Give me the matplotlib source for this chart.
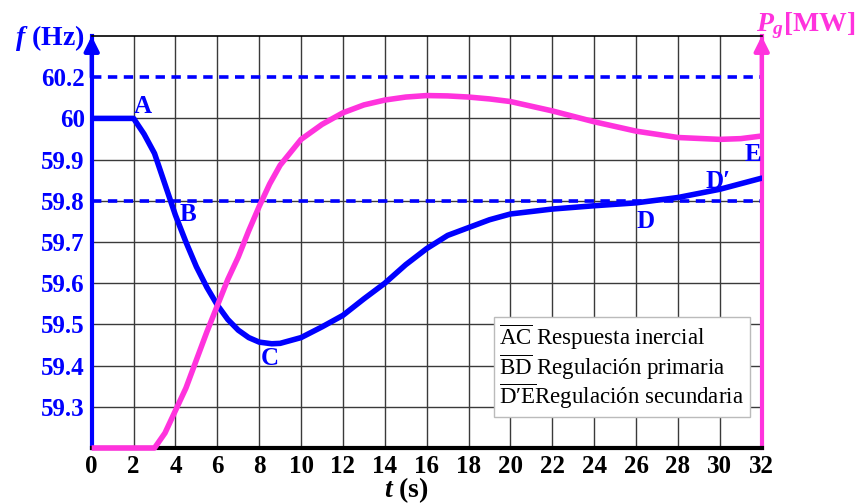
import numpy as np
import matplotlib
matplotlib.use("Agg")
import matplotlib.pyplot as plt
from matplotlib.lines import Line2D

plt.rcParams['font.family'] = ['Liberation Serif', 'DejaVu Serif']
plt.rcParams['mathtext.fontset'] = 'custom'
plt.rcParams['mathtext.it'] = 'Liberation Serif:italic:bold'
plt.rcParams['mathtext.rm'] = 'Liberation Serif:bold'
plt.rcParams['mathtext.bf'] = 'Liberation Serif:bold'
plt.rcParams['mathtext.sf'] = 'Liberation Serif'

# Frecuencia (Hz)
t_f = [0, 1, 2, 2.5, 3, 3.5, 4, 4.5, 5, 5.5, 6, 6.5, 7, 7.5, 8, 8.6, 9, 10, 11, 12, 13,
       14, 15, 16, 17, 18, 19, 20, 22, 24, 26, 28, 30, 32]
freq = [60, 60, 60, 59.962, 59.915, 59.84, 59.765, 59.70, 59.64, 59.59, 59.547, 59.512,
        59.486, 59.468, 59.457, 59.453, 59.454, 59.468, 59.494, 59.522, 59.562,
        59.60, 59.645, 59.684, 59.716, 59.735, 59.754, 59.768, 59.780, 59.788, 59.795,
        59.808, 59.828, 59.855]

# Potencia generada Pg (MW, escala relativa)
t_p = [0, 1, 2, 3, 3.5, 4, 4.5, 5, 5.5, 6, 6.5, 7, 7.5, 8, 8.5, 9, 10, 11, 12, 13, 14,
       15, 16, 17, 18, 19, 20, 22, 24, 26, 28, 30, 31, 32]
pg = [0, 0, 0, 0, 4, 10, 16, 23.5, 31, 38, 45, 51, 58, 64.5, 70.5, 75.5, 82.4, 86.4,
      89.5, 91.6, 92.9, 93.7, 94.1, 94.0, 93.7, 93.2, 92.5, 90, 87.1, 84.6, 82.9, 82.4,
      82.6, 83.3]

# el eje y del original tiene 60.2 justo encima de 60 (eje cortado)
ytick_pos = [59.3, 59.4, 59.5, 59.6, 59.7, 59.8, 59.9, 60.0, 60.1]
ytick_labels = ["59.3", "59.4", "59.5", "59.6", "59.7", "59.8", "59.9", "60", "60.2"]
dashed_pos = [60.1, 59.8]
xticks = list(range(0, 33, 2))

puntos = {"A": (2.46, 60.03), "B": (4.62, 59.767), "C": (8.5, 59.418), "D": (26.44, 59.75),
          "D\u2032": (29.9, 59.848), "E": (31.57, 59.913)}

leyenda = [r"$\overline{\mathsf{AC}}$ Respuesta inercial",
           r"$\overline{\mathsf{BD}}$ Regulación primaria",
           "$\\overline{\\mathsf{D\u2032E}}$Regulación secundaria"]

BLUE = "#0000ff"
MAG = "#ff33dd"

fig = plt.figure(figsize=(8.59, 5.04), dpi=100)
ax = fig.add_axes([91.7 / 859, 1 - 448 / 504, (761.7 - 91.7) / 859, (448 - 36) / 504])
ax.set_xlim(0, 32)
ax.set_ylim(59.2, 60.2)

# rejilla
for x in xticks[1:-1]:
    ax.axvline(x, color="#3a3a3a", lw=1.0, zorder=1)
for y in ytick_pos[:-1]:
    ax.axhline(y, color="#3a3a3a", lw=1.0, zorder=1)

for y in dashed_pos:
    ax.axhline(y, color=BLUE, lw=2.6, ls=(0, (2.6, 1.8)), zorder=2)

ax.plot(t_f, freq, color=BLUE, lw=4, solid_capstyle='round', zorder=4)

ax2 = ax.twinx()
ax2.set_ylim(0, 110)
ax2.plot(t_p, pg, color=MAG, lw=4, solid_capstyle='butt', zorder=4, clip_on=False)
ax2.set_yticks([])
for s in ax2.spines.values():
    s.set_visible(False)

ax.set_xticks(xticks)
ax.set_xticklabels([str(x) for x in xticks], fontsize=18, fontweight='bold')
ax.set_yticks(ytick_pos)
ax.set_yticklabels(ytick_labels, fontsize=18, fontweight='bold', color=BLUE)
ax.tick_params(length=0, pad=5)

ax.spines['left'].set_color(BLUE)
ax.spines['left'].set_linewidth(3)
ax.spines['right'].set_color(MAG)
ax.spines['right'].set_linewidth(3)
ax.spines['bottom'].set_linewidth(3)
ax.spines['top'].set_linewidth(1.2)

# flechas de los ejes
ax.annotate("", xy=(0, 60.2), xytext=(0, 60.1), xycoords='data',
            arrowprops=dict(arrowstyle='-|>', color=BLUE, lw=3, mutation_scale=22,
                            shrinkA=0, shrinkB=0), annotation_clip=False)
ax.annotate("", xy=(32, 60.2), xytext=(32, 60.1), xycoords='data',
            arrowprops=dict(arrowstyle='-|>', color=MAG, lw=3, mutation_scale=22,
                            shrinkA=0, shrinkB=0), annotation_clip=False)

for name, (x, y) in puntos.items():
    ax.text(x, y, name, color=BLUE, fontsize=18, fontweight='bold', ha='center', va='center', zorder=5)

handles = [Line2D([], [], linestyle='none') for _ in leyenda]
leg = ax.legend(handles, leyenda, loc='lower right', bbox_to_anchor=(0.9825, 0.075),
                handlelength=0, handletextpad=0, fancybox=False, framealpha=1,
                edgecolor='#bbbbbb', fontsize=16.5, borderpad=0.25, labelspacing=0.0,
                borderaxespad=0)
leg.set_zorder(6)

fig.text(50 / 859, 1 - 38 / 504, r"$f$ (Hz)", color=BLUE, fontsize=20, fontweight='bold',
         ha='center', va='center')
fig.text(806 / 859, 1 - 26 / 504, r"$P_g$[MW]", color=MAG, fontsize=20, fontweight='bold',
         ha='center', va='center')
fig.text(406 / 859, 1 - 490 / 504, r"$t$ (s)", color='black', fontsize=20, fontweight='bold',
         ha='center', va='center')

fig.savefig("out.png", dpi=100)
